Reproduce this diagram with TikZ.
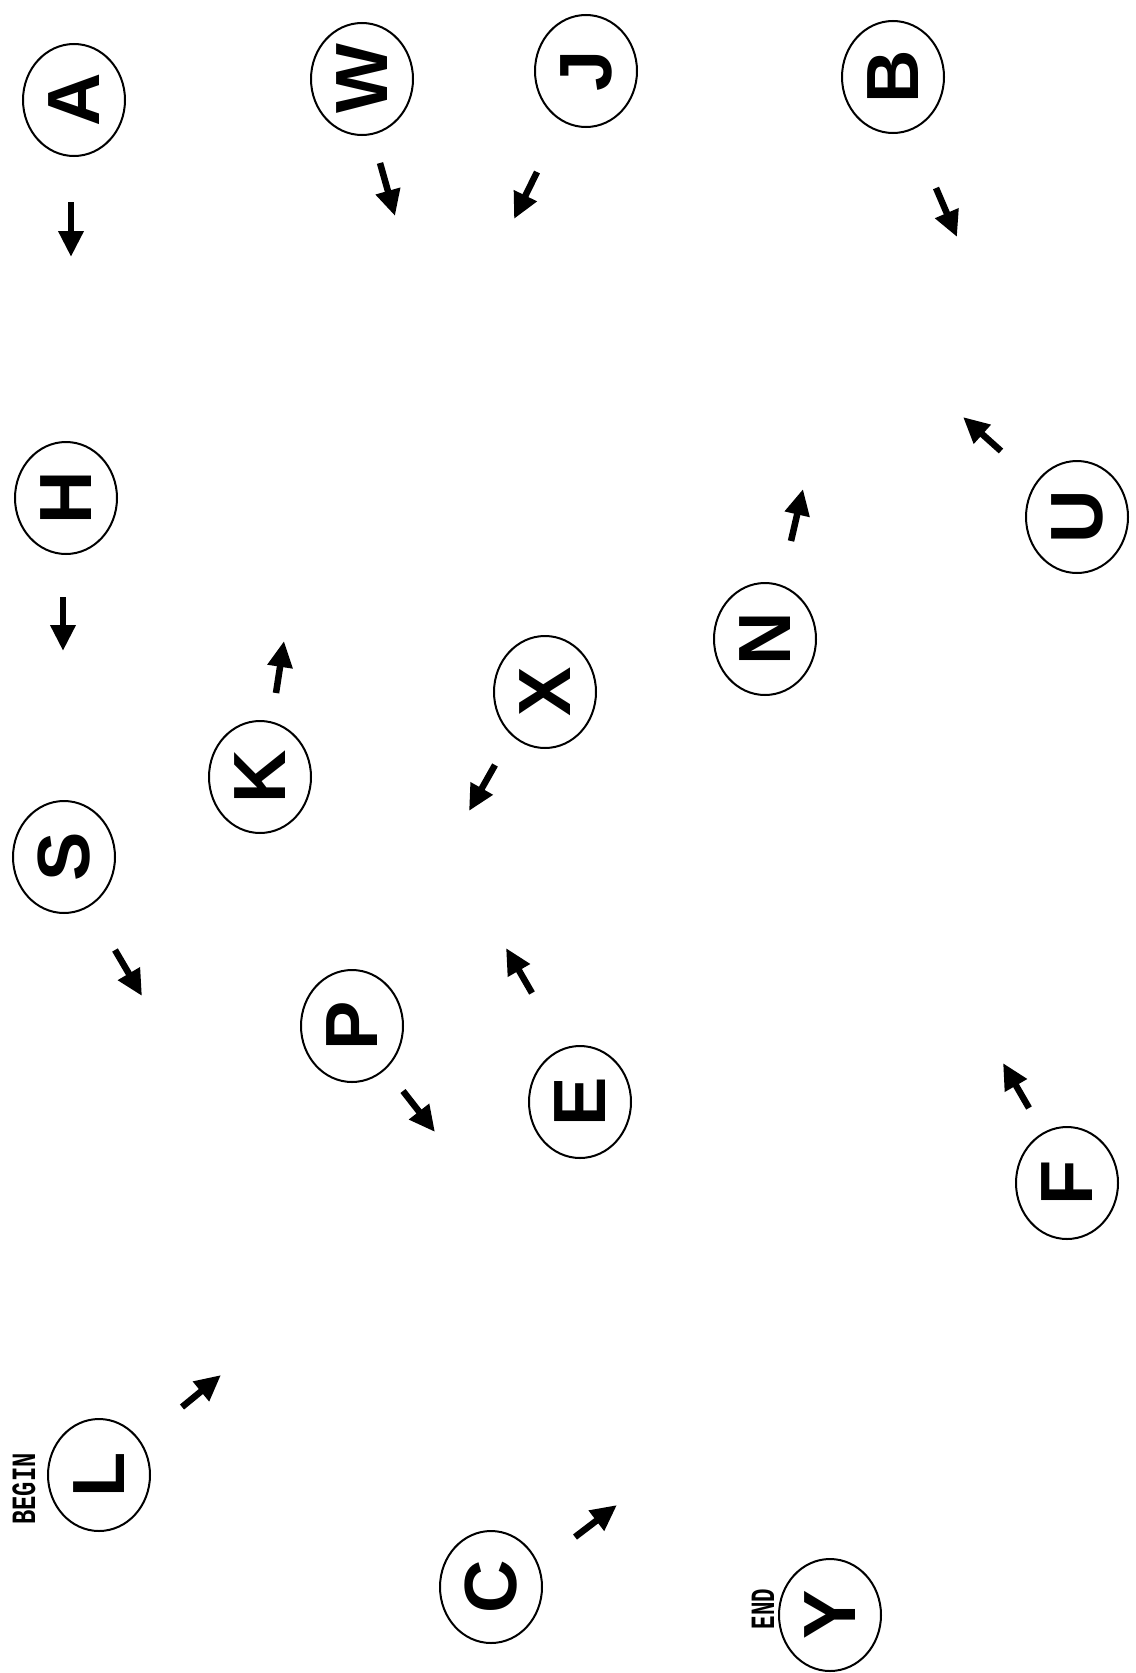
\documentclass[tikz,border=0pt]{standalone}
\usepackage{fontspec}
\setmainfont{Liberation Sans}
\newfontfamily\labfont{Liberation Mono}
\usetikzlibrary{shapes.geometric,arrows.meta}
\tikzset{
  letter/.style={ellipse,draw,line width=2pt,minimum width=112pt,minimum height=102pt,inner sep=0pt,
    font=\fontsize{74}{74}\selectfont\bfseries,rotate=90},
  tag/.style={inner sep=0pt,rotate=90,font=\labfont\bfseries\fontsize{34}{34}\selectfont},
  arr/.style={line width=6.5pt,-{Triangle[width=24pt,length=26pt]}}
}
\begin{document}
\begin{tikzpicture}[x=1pt,y=-1pt]
\useasboundingbox (0,0) rectangle (1135,1673);
\fill[white] (0,0) rectangle (1135,1673);
% circles
\node[letter] (A) at (74,100) {A};
\node[letter] (W) at (362,79) {W};
\node[letter] (J) at (586,71) {J};
\node[letter] (B) at (893,77) {B};
\node[letter] (H) at (66,498) {H};
\node[letter] (S) at (64,857) {S};
\node[letter] (K) at (260,777) {K};
\node[letter] (X) at (545,692) {X};
\node[letter] (N) at (765,639) {N};
\node[letter] (U) at (1077,517) {U};
\node[letter] (P) at (352,1026) {P};
\node[letter] (E) at (580,1102) {E};
\node[letter] (F) at (1067,1183) {F};
\node[letter] (L) at (99,1475) {L};
\node[letter] (C) at (491,1587) {C};
\node[letter] (Y) at (830,1615) {Y};
% labels
\node[tag] (begin) at (24,1489) {\scalebox{0.7}[1]{BEGIN}};
\node[tag] (end) at (763,1609) {\scalebox{0.66}[1]{END}};
% arrows
\coordinate (a1) at (71,202);   \coordinate (a2) at (71,257);
\coordinate (w1) at (380,163);  \coordinate (w2) at (395,216);
\coordinate (j1) at (537,172);  \coordinate (j2) at (514,219);
\coordinate (b1) at (936,188);  \coordinate (b2) at (957,237);
\coordinate (h1) at (63,597);   \coordinate (h2) at (63,651);
\coordinate (k1) at (276,693);  \coordinate (k2) at (284,641);
\coordinate (n1) at (791,541);  \coordinate (n2) at (803,489);
\coordinate (u1) at (1001,451); \coordinate (u2) at (963,417);
\coordinate (x1) at (495,765);  \coordinate (x2) at (469,811);
\coordinate (s1) at (115,950);  \coordinate (s2) at (142,996);
\coordinate (e1) at (532,993);  \coordinate (e2) at (506,948);
\coordinate (p1) at (403,1091); \coordinate (p2) at (435,1132);
\coordinate (f1) at (1029,1108);\coordinate (f2) at (1003,1063);
\coordinate (l1) at (182,1407); \coordinate (l2) at (221,1375);
\coordinate (c1) at (575,1537); \coordinate (c2) at (617,1505);
\foreach \p in {a,w,j,b,h,k,n,u,x,s,e,p,f,l,c}{
  \draw[arr] (\p1) -- (\p2);
}
\end{tikzpicture}
\end{document}
